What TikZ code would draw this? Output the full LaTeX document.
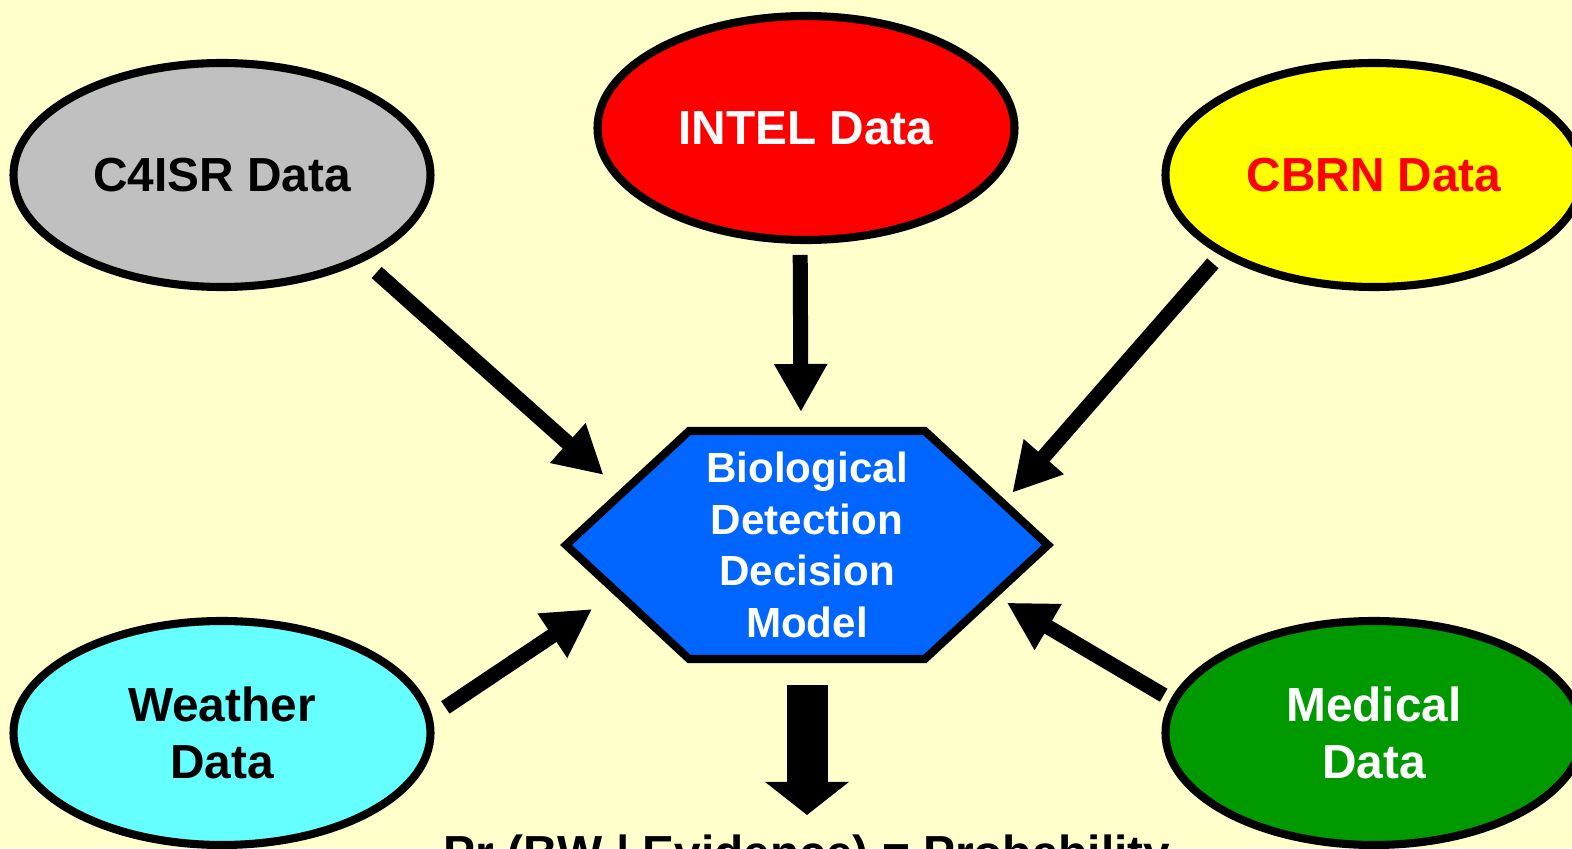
\documentclass[tikz,border=0pt]{standalone}
\usepackage{fontspec}
\setmainfont{Liberation Sans}
\usetikzlibrary{shapes.geometric,shapes.symbols,arrows.meta}

\definecolor{paper}{HTML}{FFFFCC}
\definecolor{c4isrgray}{HTML}{C0C0C0}
\definecolor{intelred}{HTML}{FF0000}
\definecolor{cbrnyellow}{HTML}{FFFF00}
\definecolor{weathercyan}{HTML}{66FFFF}
\definecolor{medicalgreen}{HTML}{009900}
\definecolor{modelblue}{HTML}{0066FF}

\begin{document}
\begin{tikzpicture}[
  source/.style={ellipse, draw=black, line width=2.3pt, outer sep=0pt, inner sep=1pt,
    minimum width=4.17cm, minimum height=2.24cm, align=center,
    font=\fontsize{13.6}{16.2}\selectfont\bfseries},
  hexa/.style={signal, signal to=west and east, signal pointer angle=85.6,
    draw=black, line width=2.3pt, fill=modelblue, outer sep=0pt, inner sep=0pt,
    minimum width=4.82cm, minimum height=2.28cm, align=center, text=white,
    font=\fontsize{12}{14.7}\selectfont\bfseries},
  feed/.style={line width=0.15cm, -{Triangle[length=0.48cm, width=0.50cm]}},
  output/.style={line width=0.41cm, -{Triangle[length=0.33cm, width=0.82cm]}}
]
  % Fond
  \useasboundingbox[fill=paper] (0,0) rectangle (15.72,8.48);

  % Sources de donnees
  \node[source, fill=c4isrgray] (c4isr) at (2.22,6.73) {C4ISR Data};
  \node[source, fill=intelred, text=white] (intel) at (8.06,7.20) {INTEL Data};
  \node[source, fill=cbrnyellow, text=intelred] (cbrn) at (13.74,6.73) {CBRN Data};
  \node[source, fill=weathercyan] (weather) at (2.22,1.15) {Weather\\Data};
  \node[source, fill=medicalgreen, text=white] (medical) at (13.74,1.15) {Medical\\Data};

  % Modele de decision
  \node[hexa] (decision) at (8.07,3.03) {Biological\\Detection\\Decision\\Model};

  % Resultat
  \node[anchor=north, inner sep=0pt, font=\fontsize{13.6}{16}\selectfont\bfseries]
    (result) at (8.07,0.14) {Pr (BW | Evidence) = Probability};

  % Fleches
  \draw[feed, shorten <=0.21cm, shorten >=0.26cm] (c4isr.-31.5) -- (decision.164.7);
  \draw[feed, shorten <=0.15cm, shorten >=0.19cm] (intel.-93.1) -- (decision.93.5);
  \draw[feed, shorten <=0.15cm, shorten >=0.14cm] (cbrn.-153) -- (decision.12.7);
  \draw[feed, shorten <=0.20cm, shorten >=0.30cm] (weather.4.6) -- (decision.-166.8);
  \draw[feed, shorten <=0.12cm, shorten >=0.15cm] (medical.171.8) -- (decision.-15.4);
  \draw[output, shorten <=0.26cm, shorten >=0.19cm] (decision.south) -- (result.north);
\end{tikzpicture}
\end{document}
